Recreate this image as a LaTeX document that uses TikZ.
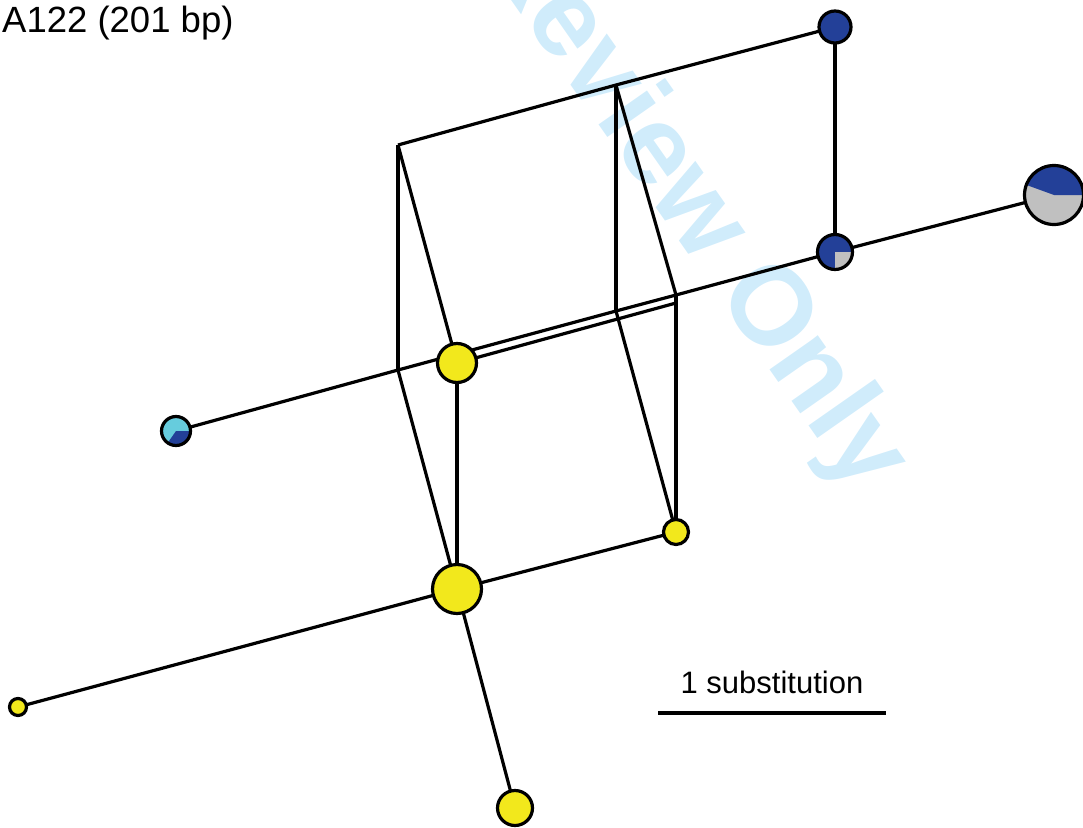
\documentclass[tikz,border=0pt]{standalone}
\usepackage{fontspec}
\setmainfont{Liberation Sans}
\usetikzlibrary{backgrounds}
\definecolor{nblue}{RGB}{35,64,152}
\definecolor{pgray}{RGB}{192,192,192}
\definecolor{pcyan}{RGB}{102,204,221}
\definecolor{pyellow}{RGB}{242,232,28}
\definecolor{wm}{RGB}{208,236,251}
\begin{document}
\begin{tikzpicture}[x=1pt,y=1pt,
  edge/.style={line width=3.2pt, line cap=butt, line join=miter},
  hap/.style={circle, draw=black, line width=3.2pt, inner sep=0pt, outer sep=0pt},
  pie/.style={circle, inner sep=0pt, outer sep=0pt},
  rim/.style={line width=3.2pt, draw=black}
]
\useasboundingbox (0,-827) rectangle (1083,0);

% haplotype nodes
\node[hap, fill=nblue, minimum size=32pt] (b1) at (835,-27) {};
\node[pie, fill=pgray, minimum size=59pt] (p1) at (1054,-195) {};
\fill[nblue] (p1.center) -- ++(0:29.5) arc[start angle=0, end angle=160, radius=29.5] -- cycle;
\draw[rim] (p1.center) circle[radius=29.5];
\node[pie, fill=nblue, minimum size=35pt] (b2) at (835,-252) {};
\fill[pgray] (b2.center) -- ++(-90:17.5) arc[start angle=-90, end angle=0, radius=17.5] -- cycle;
\draw[rim] (b2.center) circle[radius=17.5];
\node[pie, fill=pcyan, minimum size=29pt] (cy) at (176,-431) {};
\fill[nblue] (cy.center) -- ++(-125:14.5) arc[start angle=-125, end angle=0, radius=14.5] -- cycle;
\draw[rim] (cy.center) circle[radius=14.5];
\node[hap, fill=pyellow, minimum size=39pt] (y1) at (457,-363) {};
\node[hap, fill=pyellow, minimum size=49pt] (y2) at (457,-589) {};
\node[hap, fill=pyellow, minimum size=25pt] (y3) at (676,-532) {};
\node[hap, fill=pyellow, minimum size=17pt] (y4) at (18,-707) {};
\node[hap, fill=pyellow, minimum size=35pt] (y5) at (515,-808) {};

% median vectors
\coordinate (A) at (398,-145);
\coordinate (B) at (616,-85);
\coordinate (C) at (398,-370);
\coordinate (D) at (616,-311);
\coordinate (E) at (676,-295);
\coordinate (G) at (676,-303);

\begin{pgfonlayer}{background}
  \begin{scope}
    \clip (0,-827) rectangle (1083,0);
    \node[rotate=-55, text=wm, inner sep=0pt,
      font=\bfseries\fontsize{112}{112}\selectfont] (wmk) at (552,-8) {For Peer Review Only};
  \end{scope}
  \draw[edge] (A) -- (B) -- (b1.center);
  \draw[edge] (A) -- (C);
  \draw[edge] (B) -- (D);
  \draw[edge] (b1.center) -- (b2.center);
  \draw[edge] (A) -- (y1.center);
  \draw[edge] (B) -- (E);
  \draw[edge] (cy.center) -- (C) -- (D) -- (E) -- (b2.center);
  \draw[edge] (b2.center) -- (p1.center);
  \draw[edge] (y1.center) -- (G);
  \draw[edge] (C) -- (y2.center);
  \draw[edge] (D) -- (y3.center);
  \draw[edge] (E) -- (y3.center);
  \draw[edge] (y1.center) -- (y2.center);
  \draw[edge] (y2.center) -- (y3.center);
  \draw[edge] (y2.center) -- (y4.center);
  \draw[edge] (y2.center) -- (y5.center);
\end{pgfonlayer}

% scale bar
\coordinate (s1) at (658,-713);
\coordinate (s2) at (886,-713);
\draw[edge] (s1) -- (s2);
\node[anchor=base, inner sep=0pt, font=\fontsize{31}{36}\selectfont] (slabel) at (772,-693) {1 substitution};

% title
\node[anchor=base west, inner sep=0pt, font=\fontsize{36.5}{40}\selectfont] (title) at (2,-32) {A122 (201 bp)};
\end{tikzpicture}
\end{document}
